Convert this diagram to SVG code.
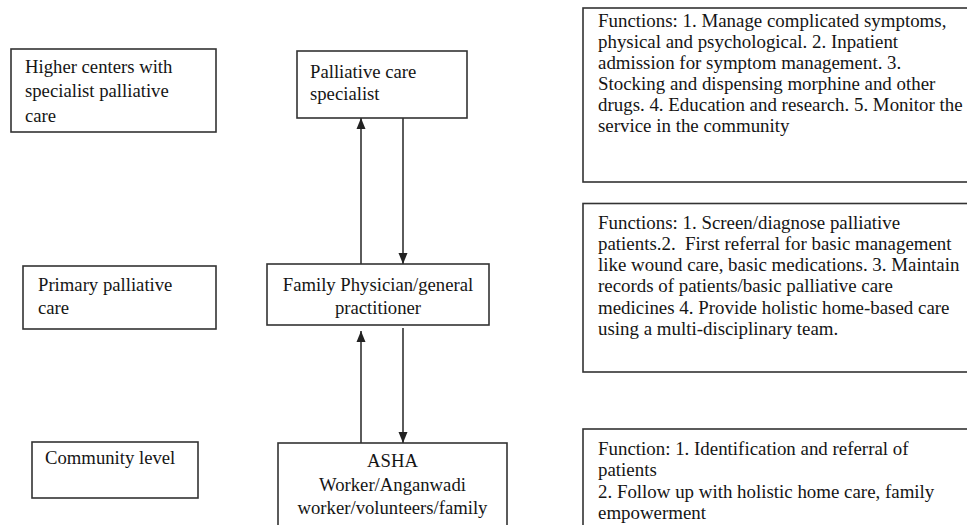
<svg xmlns="http://www.w3.org/2000/svg" width="967" height="525" viewBox="0 0 967 525">
<defs>
<style>
.box{fill:#fff;stroke:#333;stroke-width:1.6}
.t{font-family:'Liberation Serif','DejaVu Serif',serif;font-size:18.7px;fill:#151515}
.c{text-anchor:middle}
.f{font-size:18.9px}
.conn{stroke:#333;stroke-width:1.6;fill:none}
</style>
<marker id="ah" markerUnits="userSpaceOnUse" markerWidth="12" markerHeight="12" viewBox="0 0 12 12" refX="11" refY="6" orient="auto">
<path d="M0,1.5 L11,6 L0,10.5 Z" fill="#222"/>
</marker>
</defs>
<rect width="967" height="525" fill="#fff"/>

<g class="t" font-family="Liberation Serif, serif">
<g id="higher-centers">
<rect class="box" x="11" y="49" width="205" height="83"/>
<text x="25" y="72.5">Higher centers with</text>
<text x="25" y="97">specialist palliative</text>
<text x="25" y="121.5">care</text>
</g>

<g id="primary-palliative">
<rect class="box" x="23" y="266" width="193" height="63"/>
<text x="38" y="291">Primary palliative</text>
<text x="38" y="313.5">care</text>
</g>

<g id="community-level">
<rect class="box" x="32" y="442" width="166" height="56"/>
<text x="45" y="464">Community level</text>
</g>

<g id="palliative-specialist">
<rect class="box" x="297" y="51" width="170" height="67"/>
<text x="310" y="78">Palliative care</text>
<text x="310" y="100">specialist</text>
</g>

<g id="family-physician">
<rect class="box" x="267" y="264" width="222" height="61"/>
<text class="c" x="378" y="290.5">Family Physician/general</text>
<text class="c" x="378" y="313.5">practitioner</text>
</g>

<g id="asha">
<rect class="box" x="278" y="443" width="229" height="90"/>
<text class="c" x="392.5" y="467">ASHA</text>
<text class="c" x="392.5" y="490.5">Worker/Anganwadi</text>
<text class="c" x="392.5" y="514">worker/volunteers/family</text>
</g>

<g id="functions-specialist">
<rect class="box" x="583" y="8" width="400" height="174"/>
<text class="f" x="598" y="26.5">Functions: 1. Manage complicated symptoms,</text>
<text class="f" x="598" y="47.5">physical and psychological. 2. Inpatient</text>
<text class="f" x="598" y="68.5">admission for symptom management. 3.</text>
<text class="f" x="598" y="89.5">Stocking and dispensing morphine and other</text>
<text class="f" x="598" y="110.5">drugs. 4. Education and research. 5. Monitor the</text>
<text class="f" x="598" y="131.5">service in the community</text>
</g>

<g id="functions-primary">
<rect class="box" x="583" y="203.5" width="400" height="168.5"/>
<text class="f" x="598" y="229">Functions: 1. Screen/diagnose palliative</text>
<text class="f" x="598" y="250" xml:space="preserve">patients.2.  First referral for basic management</text>
<text class="f" x="598" y="271">like wound care, basic medications. 3. Maintain</text>
<text class="f" x="598" y="292">records of patients/basic palliative care</text>
<text class="f" x="598" y="313.5">medicines 4. Provide holistic home-based care</text>
<text class="f" x="598" y="335">using a multi-disciplinary team.</text>
</g>

<g id="functions-community">
<rect class="box" x="583" y="429" width="400" height="110"/>
<text class="f" x="598" y="455">Function: 1. Identification and referral of</text>
<text class="f" x="598" y="476">patients</text>
<text class="f" x="598" y="498">2. Follow up with holistic home care, family</text>
<text class="f" x="598" y="519">empowerment</text>
</g>
</g>

<g id="connectors">
<line class="conn" x1="361" y1="264" x2="361" y2="118" marker-end="url(#ah)"/>
<line class="conn" x1="403" y1="118" x2="403" y2="264" marker-end="url(#ah)"/>
<line class="conn" x1="361" y1="443" x2="361" y2="331" marker-end="url(#ah)"/>
<line class="conn" x1="403" y1="328" x2="403" y2="443" marker-end="url(#ah)"/>
</g>
</svg>
